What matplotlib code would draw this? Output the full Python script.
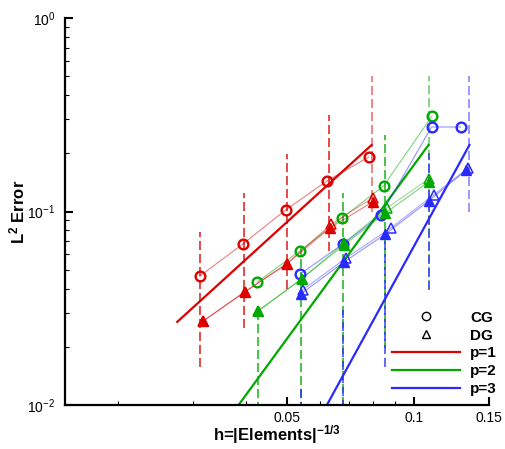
import matplotlib
matplotlib.use('Agg')
import matplotlib.pyplot as plt
from matplotlib.lines import Line2D
from matplotlib.ticker import NullFormatter, FixedLocator, LogLocator

plt.rcParams['font.family'] = ['Liberation Sans', 'DejaVu Sans']
plt.rcParams['mathtext.fontset'] = 'custom'
plt.rcParams['mathtext.rm'] = 'Liberation Sans'
plt.rcParams['mathtext.bf'] = 'Liberation Sans:bold'
plt.rcParams['mathtext.it'] = 'Liberation Sans:italic'

# ---- data ----
# CG results (circles)
cg_p1_h = [0.0312, 0.0394, 0.0497, 0.0622, 0.0780]
cg_p1_e = [0.0464, 0.0679, 0.1018, 0.1438, 0.1912]
cg_p2_h = [0.0426, 0.0537, 0.0675, 0.0846, 0.1100]
cg_p2_e = [0.0432, 0.0625, 0.0926, 0.1355, 0.3110]
cg_p3_h = [0.0538, 0.0678, 0.0833, 0.1098, 0.1285]
cg_p3_e = [0.0475, 0.0679, 0.0959, 0.2733, 0.2733]

# DG results (filled triangles)
dg_p1_h = [0.0318, 0.0398, 0.0500, 0.0632, 0.0797]
dg_p1_e = [0.0272, 0.0384, 0.0536, 0.0822, 0.1120]
dg_p2_h = [0.0428, 0.0542, 0.0682, 0.0855, 0.1080]
dg_p2_e = [0.0306, 0.0448, 0.0671, 0.0983, 0.1420]
dg_p3_h = [0.0540, 0.0682, 0.0855, 0.1080, 0.1327]
dg_p3_e = [0.0375, 0.0548, 0.0765, 0.1133, 0.1638]

# second DG run (hollow triangles)
dg2_p1_h = [0.0318, 0.0398, 0.0500, 0.0636, 0.0800]
dg2_p1_e = [0.0272, 0.0384, 0.0536, 0.0860, 0.1180]
dg2_p2_h = [0.0428, 0.0542, 0.0684, 0.0860, 0.1085]
dg2_p2_e = [0.0306, 0.0448, 0.0690, 0.1040, 0.1480]
dg2_p3_h = [0.0545, 0.0690, 0.0880, 0.1110, 0.1340]
dg2_p3_e = [0.0393, 0.0575, 0.0822, 0.1217, 0.1680]

# dashed vertical bars
bar_p1_h = [0.0312, 0.0396, 0.0500, 0.0628, 0.0793]
bar_p1_lo = [0.0157, 0.0250, 0.0398, 0.0625, 0.0994]
bar_p1_hi = [0.0780, 0.1250, 0.1980, 0.3150, 0.5000]
bar_p2_h = [0.0428, 0.0540, 0.0678, 0.0855, 0.1080]
bar_p2_lo = [0.0025, 0.0050, 0.0099, 0.0198, 0.0398]
bar_p2_hi = [0.0317, 0.0648, 0.1246, 0.2485, 0.5000]
bar_p3_h = [0.0540, 0.0678, 0.0855, 0.1080, 0.1349]
bar_p3_lo = [0.0025, 0.0060, 0.0157, 0.0394, 0.0994]
bar_p3_hi = [0.0123, 0.0310, 0.0774, 0.2000, 0.5000]

# reference slope lines (slope p+1)
ref_p1_h = [0.0276, 0.0793]
ref_p1_e = [0.0269, 0.2207]
ref_p2_h = [0.0385, 0.1080]
ref_p2_e = [0.0100, 0.2207]
ref_p3_h = [0.0622, 0.1349]
ref_p3_e = [0.0100, 0.2207]

red = '#dd0000'
green = '#00a800'
blue = '#2a2aff'

fig = plt.figure(figsize=(5.05, 4.49), dpi=100)
ax = fig.add_axes([65 / 505, 1 - 405 / 449, (489 - 65) / 505, (405 - 18) / 449])

# dashed verticals
dash = (0, (6, 2.5))
for hs, lo, hi, c in [(bar_p1_h, bar_p1_lo, bar_p1_hi, red),
                      (bar_p2_h, bar_p2_lo, bar_p2_hi, green),
                      (bar_p3_h, bar_p3_lo, bar_p3_hi, blue)]:
    for i in range(len(hs)):
        a = 0.6 if i == len(hs) - 1 else 0.9
        ax.plot([hs[i], hs[i]], [lo[i], hi[i]], color=c, lw=1.1, ls=dash, alpha=a, zorder=1)

# reference lines
ax.plot(ref_p1_h, ref_p1_e, color=red, lw=1.6, zorder=2)
ax.plot(ref_p2_h, ref_p2_e, color=green, lw=1.6, zorder=2)
ax.plot(ref_p3_h, ref_p3_e, color=blue, lw=1.6, zorder=2)

# thin lines with markers
for h, e, c in [(cg_p1_h, cg_p1_e, red), (cg_p2_h, cg_p2_e, green), (cg_p3_h, cg_p3_e, blue)]:
    ax.plot(h, e, color=c, lw=0.8, alpha=0.5, zorder=3)
    ax.plot(h, e, 'o', ls='none', mfc='none', mec=c, ms=7, mew=1.7, zorder=4)
for h, e, c in [(dg2_p1_h, dg2_p1_e, red), (dg2_p2_h, dg2_p2_e, green), (dg2_p3_h, dg2_p3_e, blue)]:
    ax.plot(h, e, color=c, lw=0.8, alpha=0.4, zorder=3)
    ax.plot(h, e, '^', ls='none', mfc='none', mec=c, ms=6.5, mew=1.1, zorder=4)
for h, e, c in [(dg_p1_h, dg_p1_e, red), (dg_p2_h, dg_p2_e, green), (dg_p3_h, dg_p3_e, blue)]:
    ax.plot(h, e, color=c, lw=0.8, alpha=0.5, zorder=3)
    ax.plot(h, e, '^', ls='none', mfc=c, mec=c, ms=6.5, mew=1, zorder=5)

ax.set_xscale('log')
ax.set_yscale('log')
ax.set_xlim(0.015, 0.15)
ax.set_ylim(0.01, 1)

ax.xaxis.set_major_locator(FixedLocator([0.05, 0.1, 0.15]))
ax.xaxis.set_major_formatter(plt.FixedFormatter(['0.05', '0.1', '0.15']))
ax.xaxis.set_minor_locator(LogLocator(base=10, subs=range(2, 10)))
ax.xaxis.set_minor_formatter(NullFormatter())
ax.yaxis.set_minor_formatter(NullFormatter())

for s in ['top', 'right']:
    ax.spines[s].set_visible(False)
for s in ['left', 'bottom']:
    ax.spines[s].set_linewidth(1.6)

ax.tick_params(which='major', direction='in', length=6, width=1.5, labelsize=10, pad=4)
ax.tick_params(which='minor', direction='in', length=3, width=0.8)
ax.tick_params(axis='y', which='major', pad=7)

ax.set_xlabel(r'h=|Elements|$^{\mathbf{-1/3}}$', fontsize=12, fontweight='bold', labelpad=-1)
ax.set_ylabel(r'L$^{\mathbf{2}}$ Error', fontsize=12, fontweight='bold', labelpad=0)

handles = [
    Line2D([], [], marker='o', ls='none', mfc='none', mec='k', ms=6, mew=1),
    Line2D([], [], marker='^', ls='none', mfc='none', mec='k', ms=6, mew=1),
    Line2D([], [], color=red, lw=1.6),
    Line2D([], [], color=green, lw=1.6),
    Line2D([], [], color=blue, lw=1.6),
]
labels = ['CG', 'DG', 'p=1', 'p=2', 'p=3']
leg = fig.legend(handles, labels, loc='lower right', bbox_to_anchor=(497 / 505, 1 - 396 / 449),
                 frameon=False, prop={'weight': 'bold', 'size': 11}, handlelength=4.4,
                 handletextpad=0.7, labelspacing=0.25, borderpad=0, borderaxespad=0)

fig.savefig('out.png', dpi=100)
